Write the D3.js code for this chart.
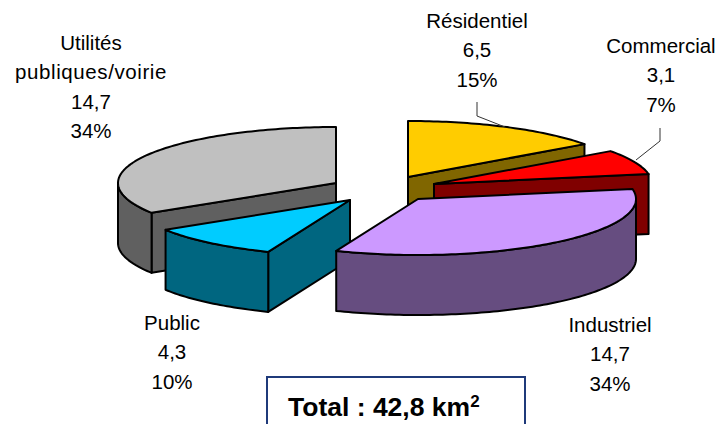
<!DOCTYPE html>
<html>
<head>
<meta charset="utf-8">
<script src="https://cdn.jsdelivr.net/npm/d3@7"></script>
<style>
  html, body { margin: 0; padding: 0; background: #fff; }
  svg { display: block; }
  text { font-family: "Liberation Sans", Arial, sans-serif; fill: #000; }
</style>
</head>
<body>
<div id="chart"></div>
<script>
// ── Data ─────────────────────────────────────────────────────────
const categories = ['Résidentiel', 'Commercial', 'Industriel', 'Public', 'Utilités publiques/voirie'];
const surfaces   = [6.5, 3.1, 14.7, 4.3, 14.7];
const percents   = [15, 7, 34, 10, 34];
const totalLabel = 'Total : 42,8 km';

// ── Style / layout ───────────────────────────────────────────────
const W = 717, H = 424;
const RX = 218, RY = 56, DEPTH = 60;
const topColors  = ['#ffcc00', '#ff0000', '#cc99ff', '#00ccff', '#c0c0c0'];
const sideColors = ['#806600', '#800000', '#664d80', '#006680', '#606060'];
// apex of each exploded slice, on the page
const apexes = [[408, 177], [434, 184], [418, 199], [350, 200], [336, 183]];
// painter's order, back to front
const drawOrder = [0, 1, 4, 3, 2];
// label block: centre x, baseline of first line; long names wrap over two lines
const labelPos = [
  { x: 477, y: 28,  name: [categories[0]] },
  { x: 661, y: 53,  name: [categories[1]] },
  { x: 610, y: 332, name: [categories[2]] },
  { x: 172, y: 330, name: [categories[3]] },
  { x: 91,  y: 50,  name: ['Utilités', 'publiques/voirie'], spacing: [0, 0.6] },
];
const LINE_H = 29.3;

const svg = d3.select('#chart').append('svg')
  .attr('width', W).attr('height', H)
  .attr('viewBox', `0 0 ${W} ${H}`);

const pie = d3.pie().sort(null).startAngle(0).endAngle(2 * Math.PI);
const slices = pie(surfaces);

const x = d3.scaleLinear().domain([-1, 1]).range([-RX, RX]);
const y = d3.scaleLinear().domain([-1, 1]).range([-RY, RY]);
const line = d3.line();

// angle in radians, 0 = top, clockwise
const rim = (a, apex, drop = 0) => [
  apex[0] + x(Math.sin(a)),
  apex[1] + y(-Math.cos(a)) + drop,
];

function arcPoints(a0, a1, apex, drop = 0) {
  const n = Math.max(2, Math.ceil((a1 - a0) / 0.02));
  return d3.range(n + 1).map(i => rim(a0 + (a1 - a0) * i / n, apex, drop));
}

function drawFace(points, fill) {
  svg.append('path')
    .attr('d', line(points) + 'Z')
    .attr('fill', fill)
    .attr('stroke', '#000')
    .attr('stroke-width', 2)
    .attr('stroke-linejoin', 'round');
}

function cutFace(a, apex, fill) {
  const p = rim(a, apex);
  drawFace([apex, p, [p[0], p[1] + DEPTH], [apex[0], apex[1] + DEPTH]], fill);
}

// ── Slices ───────────────────────────────────────────────────────
drawOrder.forEach(i => {
  const { startAngle: a0, endAngle: a1 } = slices[i];
  const apex = apexes[i];

  if (Math.sin(a0) < -1e-6) cutFace(a0, apex, sideColors[i]);
  if (Math.sin(a1) > 1e-6) cutFace(a1, apex, sideColors[i]);

  // outer wall, only the part of the rim facing the viewer
  const w0 = Math.max(a0, Math.PI / 2);
  const w1 = Math.min(a1, 3 * Math.PI / 2);
  if (w1 > w0) {
    drawFace([...arcPoints(w0, w1, apex), ...arcPoints(w0, w1, apex, DEPTH).reverse()], sideColors[i]);
  }

  drawFace([apex, ...arcPoints(a0, a1, apex)], topColors[i]);
});

// ── Leader lines ─────────────────────────────────────────────────
svg.append('path')
  .attr('d', line([[477, 102], [477, 116], [505, 127]]))
  .attr('fill', 'none').attr('stroke', '#333').attr('stroke-width', 1);
svg.append('path')
  .attr('d', line([[660, 128], [660, 141], [636, 160]]))
  .attr('fill', 'none').attr('stroke', '#333').attr('stroke-width', 1);

// ── Labels ───────────────────────────────────────────────────────
const fmt = v => String(v).replace('.', ',');
labelPos.forEach((l, i) => {
  const lines = [...l.name, fmt(surfaces[i]), `${percents[i]}%`];
  const t = svg.append('text')
    .attr('text-anchor', 'middle')
    .attr('font-size', 20.5);
  lines.forEach((s, j) => {
    t.append('tspan')
      .attr('x', l.x).attr('y', l.y + j * LINE_H)
      .attr('letter-spacing', l.spacing && l.spacing[j] ? l.spacing[j] : null)
      .text(s);
  });
});

// ── Total box ────────────────────────────────────────────────────
svg.append('rect')
  .attr('x', 267).attr('y', 377).attr('width', 258).attr('height', 60)
  .attr('fill', '#fff').attr('stroke', '#1f3a7a').attr('stroke-width', 2);
const total = svg.append('text')
  .attr('x', 288).attr('y', 416)
  .attr('font-size', 26.5).attr('font-weight', 'bold');
total.append('tspan').text(totalLabel);
total.append('tspan').attr('dy', -9).attr('font-size', 17).text('2');
</script>
</body>
</html>
